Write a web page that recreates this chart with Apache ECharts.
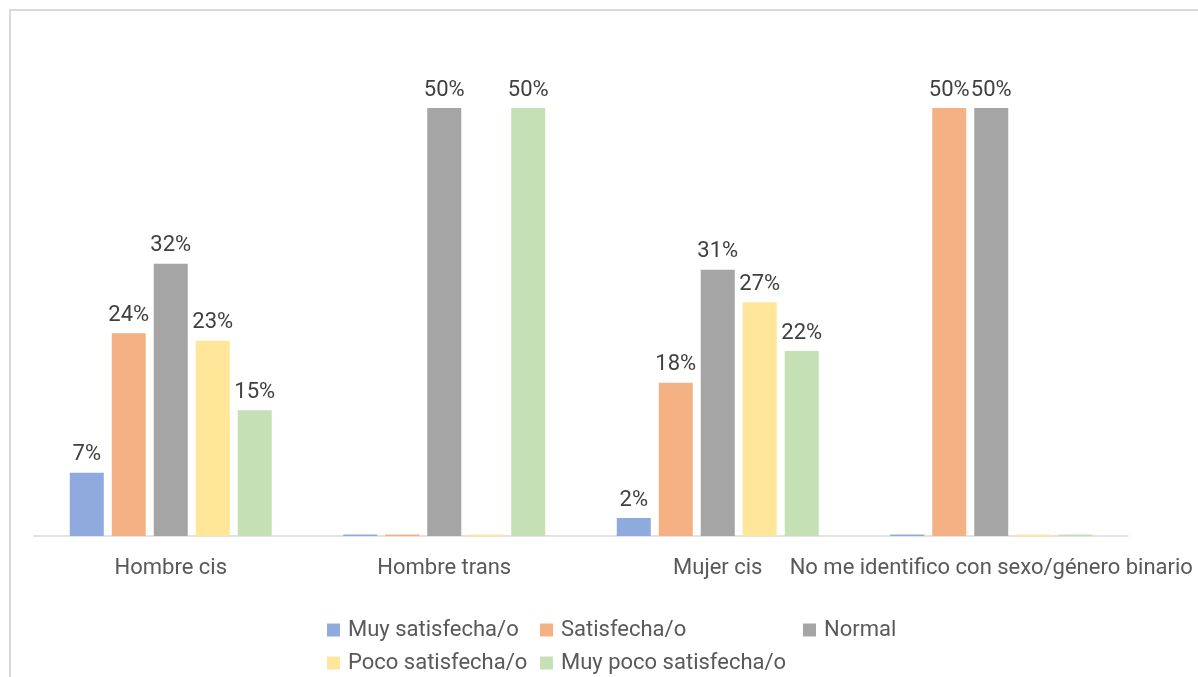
<!DOCTYPE html>
<html>
<head>
<meta charset="utf-8">
<script src="https://cdn.jsdelivr.net/npm/echarts@6/dist/echarts.min.js"></script>
<style>
html,body{margin:0;padding:0;background:#fff;}
#chart{width:1198px;height:677px;}
</style>
</head>
<body>
<div id="chart"></div>
<script>
const categories = ['Hombre cis', 'Hombre trans', 'Mujer cis', 'No me identifico con sexo/género binario'];
const seriesNames = ['Muy satisfecha/o', 'Satisfecha/o', 'Normal', 'Poco satisfecha/o', 'Muy poco satisfecha/o'];
const muySatisfecha = [7.4, 0, 2.1, 0];
const satisfecha = [23.7, 0, 17.9, 50];
const normal = [31.8, 50, 31.1, 50];
const pocoSatisfecha = [22.8, 0, 27.3, 0];
const muyPocoSatisfecha = [14.7, 50, 21.6, 0];
const colors = ['#8faadc', '#f4b183', '#a5a5a5', '#ffe699', '#c5e0b4'];

const seriesData = [muySatisfecha, satisfecha, normal, pocoSatisfecha, muyPocoSatisfecha];
const FONT = 'Roboto';

const chart = echarts.init(document.getElementById('chart'), null, {renderer: 'canvas'});

const legendPos = [
  {left: 327, top: 619},
  {left: 540, top: 619},
  {left: 803, top: 619},
  {left: 327, top: 652},
  {left: 540, top: 652}
];

const option = {
  animation: false,
  backgroundColor: '#ffffff',
  graphic: [{
    type: 'rect',
    shape: {x: 10, y: 10, width: 1400, height: 900},
    style: {fill: 'none', stroke: '#d9d9d9', lineWidth: 2},
    silent: true,
    z: -10
  }],
  legend: seriesNames.map((n, i) => ({
    data: [n],
    left: legendPos[i].left,
    top: legendPos[i].top,
    icon: 'rect',
    itemWidth: 13,
    itemHeight: 13,
    padding: 0,
    selectedMode: false,
    textStyle: {fontFamily: FONT, fontSize: 22, color: '#595959', lineHeight: 22, padding: [0, 0, 0, 3]}
  })),
  grid: {left: 34, right: 70, top: 108, bottom: 141, containLabel: false},
  xAxis: {
    type: 'category',
    data: categories,
    axisLine: {show: true, lineStyle: {color: '#d9d9d9', width: 1.5}},
    axisTick: {show: false},
    axisLabel: {interval: 0, fontFamily: FONT, fontSize: 22, color: '#595959', margin: 21}
  },
  yAxis: {
    type: 'value',
    min: 0,
    max: 50,
    show: false,
    splitLine: {show: false}
  },
  series: seriesNames.map((n, i) => ({
    name: n,
    type: 'bar',
    data: seriesData[i],
    barWidth: 34,
    barGap: '23.5%',
    barMinHeight: 1.5,
    itemStyle: {color: colors[i]},
    label: {
      show: true,
      position: 'top',
      distance: 7,
      fontFamily: FONT,
      fontSize: 22,
      color: '#404040',
      formatter: p => p.value === 0 ? '' : Math.round(p.value) + '%'
    }
  }))
};
chart.setOption(option);
</script>
</body>
</html>
